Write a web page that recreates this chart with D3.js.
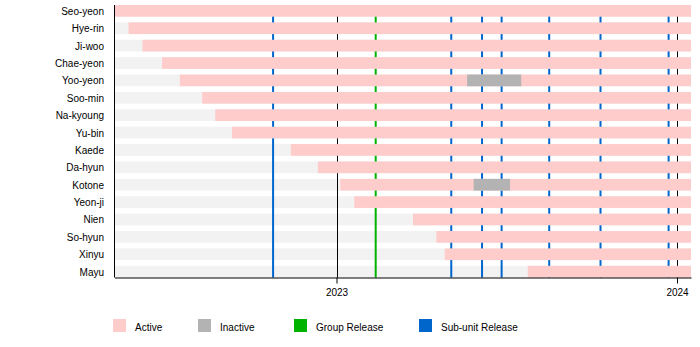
<!DOCTYPE html>
<html>
<head>
<meta charset="utf-8">
<script src="https://cdn.jsdelivr.net/npm/d3@7/dist/d3.min.js"></script>
<style>
  html, body { margin: 0; padding: 0; background: #fff; }
  svg { display: block; font-family: "Liberation Sans", Arial, sans-serif; }
</style>
</head>
<body>
<svg id="chart" width="700" height="347"></svg>
<script>
// ---- Data ----
const members = ["Seo-yeon","Hye-rin","Ji-woo","Chae-yeon","Yoo-yeon","Soo-min","Na-kyoung","Yu-bin",
                 "Kaede","Da-hyun","Kotone","Yeon-ji","Nien","So-hyun","Xinyu","Mayu"];
const startDates = ["2022-05-08","2022-05-23","2022-06-07","2022-06-28","2022-07-17","2022-08-10","2022-08-24","2022-09-11",
                    "2022-11-13","2022-12-12","2023-01-05","2023-01-20","2023-03-24","2023-04-18","2023-04-27","2023-07-25"];
const inactiveMembers = ["Yoo-yeon","Kotone"];
const inactiveStart = ["2023-05-21","2023-05-28"];
const inactiveEnd = ["2023-07-18","2023-07-06"];
const groupReleases = ["2023-02-12"];
const subunitReleases = ["2022-10-25","2023-05-04","2023-06-06","2023-06-27","2023-08-17","2023-10-11","2023-12-23"];
const yearTicks = ["2023-01-01","2024-01-01"];
const timelineStart = "2022-05-08";
const timelineEnd = "2024-01-16";
const legendLabels = ["Active","Inactive","Group Release","Sub-unit Release"];
const legendColors = ["#ffcccc","#b3b3b3","#00b300","#0066cc"];

// ---- Setup ----
const parse = d3.utcParse("%Y-%m-%d");
const svg = d3.select("#chart");
const plotLeft = 114.5, plotRight = 691, plotTop = 5, plotBottom = 277.5;

const x = d3.scaleUtc().domain([parse(timelineStart), parse(timelineEnd)]).range([plotLeft, plotRight]);
const y = d3.scaleBand().domain(members).range([plotTop, plotBottom]).paddingInner(0.327).paddingOuter(0);

const colActive = legendColors[0], colInactive = legendColors[1], colGroup = legendColors[2], colSub = legendColors[3];

// background rows
svg.append("g").selectAll("rect").data(members).join("rect")
  .attr("x", x(parse(timelineStart)))
  .attr("width", x(parse(timelineEnd)) - x(parse(timelineStart)))
  .attr("y", d => y(d))
  .attr("height", y.bandwidth())
  .attr("fill", "#f2f2f2");

// event lines
const lines = svg.append("g");
lines.selectAll(".sub").data(subunitReleases).join("line").attr("class", "sub")
  .attr("x1", d => x(parse(d))).attr("x2", d => x(parse(d)))
  .attr("y1", plotTop).attr("y2", plotBottom)
  .attr("stroke", colSub).attr("stroke-width", 2);
lines.selectAll(".grp").data(groupReleases).join("line").attr("class", "grp")
  .attr("x1", d => x(parse(d))).attr("x2", d => x(parse(d)))
  .attr("y1", plotTop).attr("y2", plotBottom)
  .attr("stroke", colGroup).attr("stroke-width", 2);
lines.selectAll(".yr").data(yearTicks).join("line").attr("class", "yr")
  .attr("x1", d => Math.round(x(parse(d))) + 0.5).attr("x2", d => Math.round(x(parse(d))) + 0.5)
  .attr("y1", plotTop).attr("y2", plotBottom)
  .attr("stroke", "#000").attr("stroke-width", 1);

// active bars
svg.append("g").selectAll("rect").data(members).join("rect")
  .attr("x", (d, i) => x(parse(startDates[i])))
  .attr("width", (d, i) => x(parse(timelineEnd)) - x(parse(startDates[i])))
  .attr("y", d => y(d))
  .attr("height", y.bandwidth())
  .attr("fill", colActive);

// inactive bars
svg.append("g").selectAll("rect").data(inactiveMembers).join("rect")
  .attr("x", (d, i) => x(parse(inactiveStart[i])))
  .attr("width", (d, i) => x(parse(inactiveEnd[i])) - x(parse(inactiveStart[i])))
  .attr("y", d => y(d))
  .attr("height", y.bandwidth())
  .attr("fill", colInactive);

// member labels
svg.append("g").selectAll("text").data(members).join("text")
  .attr("x", 104)
  .attr("y", d => y(d) + y.bandwidth() / 2 + 4)
  .attr("text-anchor", "end")
  .attr("font-size", 10)
  .attr("fill", "#000")
  .text(d => d);

// y axis line
svg.append("line")
  .attr("x1", plotLeft).attr("x2", plotLeft).attr("y1", plotTop).attr("y2", plotBottom)
  .attr("stroke", "#000").attr("stroke-width", 1);

// x axis
const xAxis = d3.axisBottom(x)
  .tickValues(yearTicks.map(parse))
  .tickFormat(d3.utcFormat("%Y"))
  .tickSize(6).tickSizeOuter(0).tickPadding(5);
const gx = svg.append("g").attr("transform", `translate(0,${plotBottom})`).call(xAxis);
gx.select(".domain").attr("stroke", "#000");
gx.selectAll(".tick text").attr("font-size", 10).attr("font-family", "Liberation Sans, Arial, sans-serif").attr("fill", "#000");
gx.selectAll(".tick line").attr("stroke", "#000");

// legend
const legendX = [113, 198, 294, 419];
const lg = svg.append("g").selectAll("g").data(legendLabels).join("g")
  .attr("transform", (d, i) => `translate(${legendX[i]},319)`);
lg.append("rect").attr("width", 13).attr("height", 13).attr("fill", (d, i) => legendColors[i]);
lg.append("text").attr("x", 22).attr("y", 11.5).attr("font-size", 10).attr("fill", "#000").text(d => d);
</script>
</body>
</html>
